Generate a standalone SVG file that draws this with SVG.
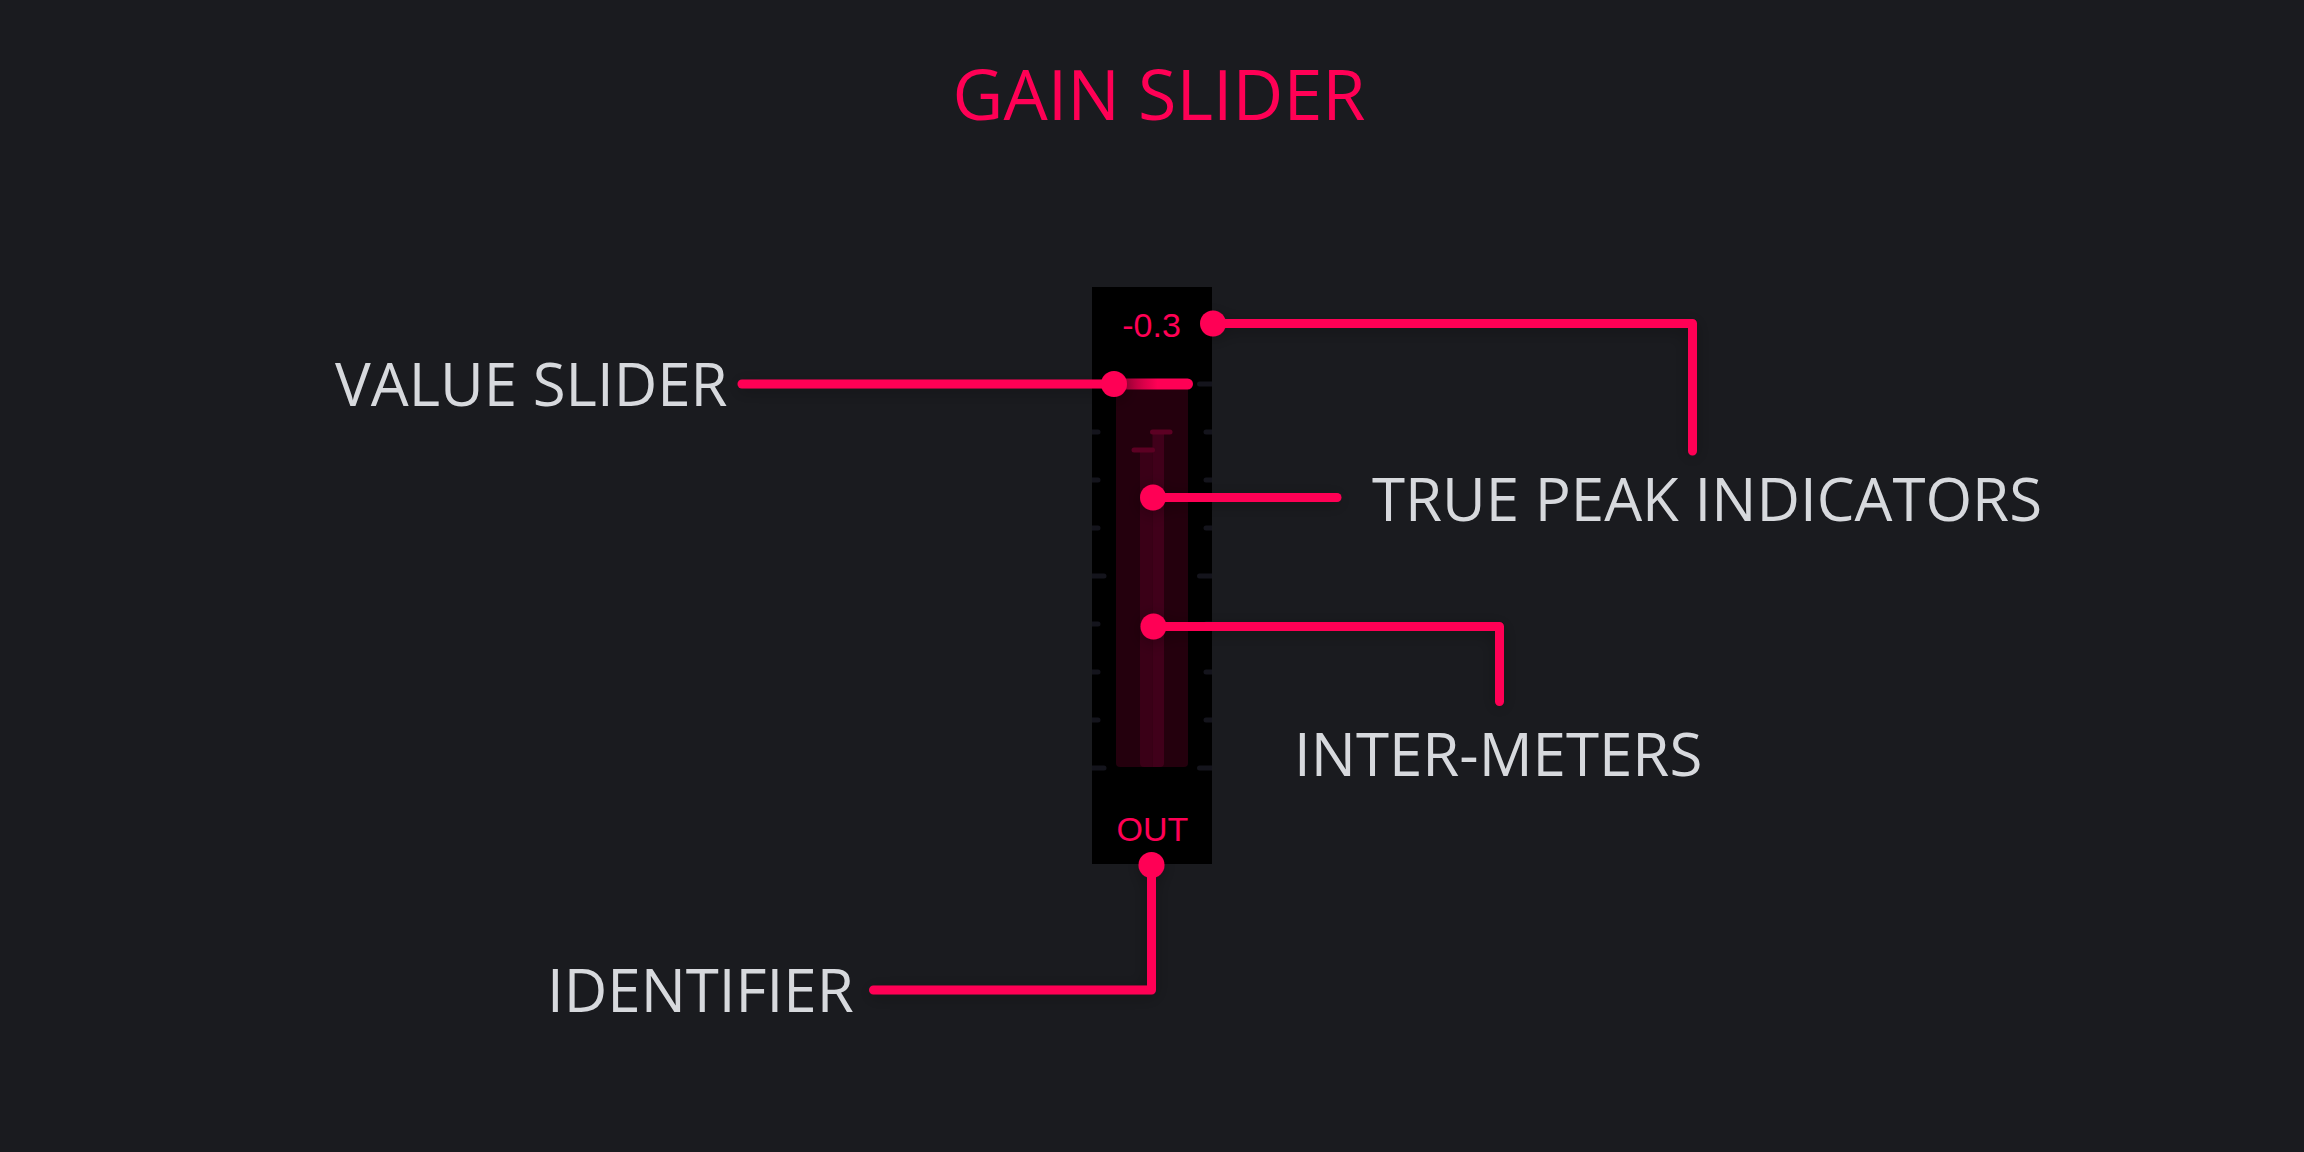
<svg xmlns="http://www.w3.org/2000/svg" width="2304" height="1152" viewBox="0 0 2304 1152">
  <defs>
    <style>
      .label { font-family: "Open Sans", "Noto Sans", "Liberation Sans", sans-serif; font-size: 60px; fill: #d7d9dd; }
      .title { font-family: "Open Sans", "Noto Sans", "Liberation Sans", sans-serif; font-size: 70px; fill: #ff0055; }
      .val { font-family: "Liberation Sans", Arial, sans-serif; font-size: 34px; fill: #ff0055; }
      .conn { fill: none; stroke: #ff0055; stroke-width: 9; stroke-linecap: round; stroke-linejoin: round; }
      .dot { fill: #ff0055; }
      .tick { stroke: #14141c; stroke-width: 5; stroke-linecap: round; }
      .peak { stroke: #5c0023; stroke-width: 5; stroke-linecap: round; }
    </style>
    <linearGradient id="barGrad" gradientUnits="userSpaceOnUse" x1="1114" y1="0" x2="1193" y2="0">
      <stop offset="0" stop-color="#8a0030"/>
      <stop offset="0.55" stop-color="#ff0055"/>
      <stop offset="1" stop-color="#ff0055"/>
    </linearGradient>
    <clipPath id="panelClip">
      <rect x="1092" y="287" width="120" height="577"/>
    </clipPath>
    <filter id="shadow" x="-20%" y="-50%" width="140%" height="200%">
      <feDropShadow dx="0" dy="3" stdDeviation="8" flood-color="#000000" flood-opacity="0.3"/>
    </filter>
  </defs>

  <rect x="0" y="0" width="2304" height="1152" fill="#1a1b1f"/>

  <g id="title">
    <text class="title" x="1159" y="120" text-anchor="middle">GAIN SLIDER</text>
  </g>

  <g id="gain-slider">
    <rect x="1092" y="287" width="120" height="577" fill="#000000"/>
    <g clip-path="url(#panelClip)">
      <line class="tick" x1="1088" y1="432" x2="1098" y2="432"/>
      <line class="tick" x1="1088" y1="480" x2="1098" y2="480"/>
      <line class="tick" x1="1088" y1="528" x2="1098" y2="528"/>
      <line class="tick" x1="1088" y1="576" x2="1104" y2="576"/>
      <line class="tick" x1="1088" y1="624" x2="1098" y2="624"/>
      <line class="tick" x1="1088" y1="672" x2="1098" y2="672"/>
      <line class="tick" x1="1088" y1="720" x2="1098" y2="720"/>
      <line class="tick" x1="1088" y1="768" x2="1104" y2="768"/>
      <line class="tick" x1="1199.5" y1="384" x2="1216" y2="384"/>
      <line class="tick" x1="1206" y1="432" x2="1216" y2="432"/>
      <line class="tick" x1="1206" y1="480" x2="1216" y2="480"/>
      <line class="tick" x1="1206" y1="528" x2="1216" y2="528"/>
      <line class="tick" x1="1199.5" y1="576" x2="1216" y2="576"/>
      <line class="tick" x1="1206" y1="624" x2="1216" y2="624"/>
      <line class="tick" x1="1206" y1="672" x2="1216" y2="672"/>
      <line class="tick" x1="1206" y1="720" x2="1216" y2="720"/>
      <line class="tick" x1="1199.5" y1="768" x2="1216" y2="768"/>
    </g>
    <g id="inter-meters">
      <rect x="1116" y="384" width="72" height="383" rx="4" fill="#24000d"/>
      <path d="M1140 450 H1152.5 V767 H1144 Q1140 767 1140 763 Z" fill="#3a0017"/>
      <path d="M1152.5 432 H1164 V763 Q1164 767 1160 767 H1152.5 Z" fill="#40001a"/>
      <line class="peak" x1="1134" y1="450" x2="1152.5" y2="450"/>
      <line class="peak" x1="1152.5" y1="432" x2="1170" y2="432"/>
    </g>
    <line x1="1114" y1="384" x2="1187.5" y2="384" stroke="url(#barGrad)" stroke-width="11" stroke-linecap="round"/>
    <text class="val" x="1151.5" y="337" text-anchor="middle">-0.3</text>
    <text class="val" x="1152.5" y="841" text-anchor="middle">OUT</text>
  </g>

  <g id="connectors" filter="url(#shadow)">
    <path class="conn" d="M742 384 H1114"/>
    <path class="conn" d="M1213 323.5 H1692.5 V451"/>
    <path class="conn" d="M1153 497.5 H1337"/>
    <path class="conn" d="M1153.5 626.5 H1499.5 V701.5"/>
    <path class="conn" d="M1151.5 865 V990 H873.5"/>
    <circle class="dot" cx="1114" cy="384" r="13"/>
    <circle class="dot" cx="1213" cy="323.5" r="13"/>
    <circle class="dot" cx="1153" cy="497.5" r="13"/>
    <circle class="dot" cx="1153.5" cy="626.5" r="13"/>
    <circle class="dot" cx="1151.5" cy="865" r="13"/>
  </g>

  <g id="label-value-slider">
    <text class="label" x="335" y="406">VALUE SLIDER</text>
  </g>
  <g id="label-true-peak">
    <text class="label" x="1372" y="521">TRUE PEAK INDICATORS</text>
  </g>
  <g id="label-inter-meters">
    <text class="label" x="1294" y="776">INTER-METERS</text>
  </g>
  <g id="label-identifier">
    <text class="label" x="547" y="1012">IDENTIFIER</text>
  </g>
</svg>
